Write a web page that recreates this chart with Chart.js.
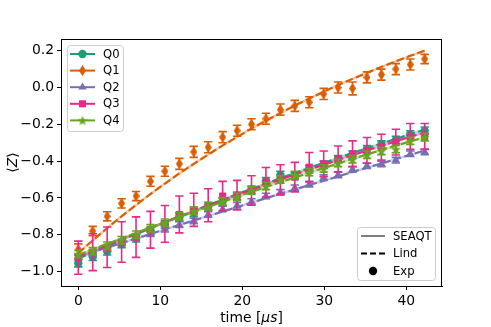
<!DOCTYPE html>
<html>
<head>
<meta charset="utf-8">
<script src="https://cdn.jsdelivr.net/npm/chart.js@4.4.0/dist/chart.umd.min.js"></script>
<style>
  html, body { margin: 0; padding: 0; background: #fff; }
</style>
</head>
<body>
<canvas id="chart-z" width="491" height="327"></canvas>
<script>
// time axis (µs)
const times = [0, 1.76, 3.52, 5.28, 7.04, 8.8, 10.56, 12.32, 14.08, 15.84, 17.6, 19.36, 21.12,
    22.88, 24.64, 26.4, 28.16, 29.92, 31.68, 33.44, 35.2, 36.96, 38.72, 40.48, 42.24];

const qubits = ['Q0', 'Q1', 'Q2', 'Q3', 'Q4'];
const colors = ['#1b9e77', '#d95f02', '#7570b3', '#e7298a', '#66a61e'];

// experiment <Z>
const expQ0 = [-0.955, -0.92, -0.89, -0.85, -0.82, -0.78, -0.745, -0.705, -0.68, -0.645, -0.62, -0.59, -0.555,
    -0.51, -0.475, -0.48, -0.445, -0.42, -0.39, -0.365, -0.335, -0.31, -0.285, -0.255, -0.235];
const expQ1 = [-0.88, -0.78, -0.70, -0.63, -0.59, -0.51, -0.455, -0.415, -0.35, -0.325, -0.27, -0.235, -0.20,
    -0.17, -0.12, -0.10, -0.08, -0.035, 0.0, -0.005, 0.055, 0.07, 0.10, 0.125, 0.155];
const expQ2 = [-0.92, -0.90, -0.875, -0.845, -0.815, -0.795, -0.77, -0.745, -0.725, -0.69, -0.66, -0.64, -0.62,
    -0.59, -0.57, -0.545, -0.525, -0.49, -0.475, -0.445, -0.425, -0.415, -0.395, -0.36, -0.35];
const expQ3 = [-0.925, -0.895, -0.868, -0.84, -0.813, -0.773, -0.741, -0.69, -0.665, -0.64, -0.59, -0.585, -0.56,
    -0.515, -0.50, -0.487, -0.433, -0.415, -0.388, -0.36, -0.342, -0.324, -0.297, -0.266, -0.266];
const expQ4 = [-0.905, -0.89, -0.86, -0.83, -0.80, -0.765, -0.735, -0.70, -0.67, -0.645, -0.62, -0.595, -0.56,
    -0.535, -0.50, -0.475, -0.46, -0.44, -0.41, -0.39, -0.365, -0.345, -0.335, -0.29, -0.27];

// error bars
const errQ0 = [0.02, 0.02, 0.02, 0.02, 0.02, 0.02, 0.02, 0.02, 0.02, 0.02, 0.02, 0.02, 0.02,
    0.02, 0.02, 0.02, 0.02, 0.02, 0.02, 0.02, 0.02, 0.02, 0.02, 0.02, 0.02];
const errQ1 = [0.03, 0.025, 0.025, 0.025, 0.025, 0.027, 0.027, 0.03, 0.03, 0.03, 0.03, 0.03, 0.03,
    0.03, 0.03, 0.03, 0.03, 0.03, 0.03, 0.035, 0.03, 0.03, 0.03, 0.03, 0.025];
const errQ2 = [0.015, 0.015, 0.015, 0.015, 0.015, 0.015, 0.015, 0.015, 0.015, 0.015, 0.015, 0.015, 0.015,
    0.015, 0.015, 0.015, 0.015, 0.015, 0.015, 0.015, 0.015, 0.015, 0.015, 0.015, 0.015];
const errQ3 = [0.09, 0.1, 0.11, 0.11, 0.11, 0.1, 0.1, 0.1, 0.09, 0.09, 0.08, 0.08, 0.08,
    0.08, 0.08, 0.08, 0.08, 0.07, 0.07, 0.07, 0.07, 0.07, 0.07, 0.07, 0.07];
const errQ4 = [0.02, 0.02, 0.02, 0.02, 0.02, 0.02, 0.02, 0.02, 0.02, 0.02, 0.02, 0.02, 0.02,
    0.02, 0.02, 0.02, 0.02, 0.02, 0.02, 0.02, 0.02, 0.02, 0.02, 0.02, 0.02];

// Lindblad model
const lindQ0 = [-0.930, -0.896, -0.863, -0.830, -0.797, -0.765, -0.733, -0.702, -0.671, -0.640, -0.610, -0.580, -0.551,
    -0.522, -0.493, -0.465, -0.437, -0.410, -0.383, -0.356, -0.330, -0.304, -0.279, -0.254, -0.229];
const lindQ1 = [-0.900, -0.831, -0.764, -0.700, -0.639, -0.579, -0.522, -0.467, -0.415, -0.364, -0.315, -0.269, -0.223,
    -0.180, -0.139, -0.098, -0.060, -0.023, 0.013, 0.047, 0.080, 0.112, 0.142, 0.172, 0.200];
const lindQ2 = [-0.920, -0.895, -0.870, -0.845, -0.821, -0.796, -0.771, -0.747, -0.723, -0.698, -0.674, -0.650, -0.626,
    -0.602, -0.578, -0.554, -0.530, -0.507, -0.483, -0.459, -0.436, -0.413, -0.389, -0.366, -0.343];
const lindQ3 = [-0.920, -0.888, -0.856, -0.824, -0.793, -0.762, -0.732, -0.701, -0.672, -0.642, -0.613, -0.584, -0.556,
    -0.528, -0.500, -0.473, -0.446, -0.420, -0.393, -0.368, -0.342, -0.317, -0.292, -0.268, -0.244];
const lindQ4 = [-0.910, -0.880, -0.850, -0.820, -0.791, -0.762, -0.733, -0.704, -0.676, -0.649, -0.621, -0.594, -0.567,
    -0.541, -0.514, -0.489, -0.463, -0.438, -0.413, -0.388, -0.364, -0.340, -0.316, -0.293, -0.270];

// SEAQT model (overlaps the Lindblad curves at this scale)
const seaqtQ0 = lindQ0, seaqtQ1 = lindQ1, seaqtQ2 = lindQ2, seaqtQ3 = lindQ3, seaqtQ4 = lindQ4;

const xTicks = [0, 10, 20, 30, 40];
const yTicks = [-1.0, -0.8, -0.6, -0.4, -0.2, 0.0, 0.2];

const expData = [expQ0, expQ1, expQ2, expQ3, expQ4];
const errData = [errQ0, errQ1, errQ2, errQ3, errQ4];
const lindData = [lindQ0, lindQ1, lindQ2, lindQ3, lindQ4];
const seaqtData = [seaqtQ0, seaqtQ1, seaqtQ2, seaqtQ3, seaqtQ4];

Chart.defaults.font.family = '"DejaVu Sans", sans-serif';
Chart.defaults.color = '#000';

function markerCanvas(w, h, color, draw) {
    const c = document.createElement('canvas');
    c.width = w;
    c.height = h;
    const g = c.getContext('2d');
    g.fillStyle = color;
    g.beginPath();
    draw(g, w, h);
    g.closePath();
    g.fill();
    return c;
}

function thinDiamond(color) {
    return markerCanvas(7, 11, color, (g, w, h) => {
        g.moveTo(w / 2, 0);
        g.lineTo(w, h / 2);
        g.lineTo(w / 2, h);
        g.lineTo(0, h / 2);
    });
}

function star(color) {
    return markerCanvas(12, 12, color, (g) => {
        for (let k = 0; k < 10; k++) {
            const r = k % 2 === 0 ? 5.3 : 2.2;
            const a = -Math.PI / 2 + k * Math.PI / 5;
            const px = 6 + r * Math.cos(a), py = 6.5 + r * Math.sin(a);
            if (k === 0) g.moveTo(px, py); else g.lineTo(px, py);
        }
    });
}

const markers = [
    { pointStyle: 'circle', radius: 4.2 },
    { pointStyle: thinDiamond(colors[1]), radius: 5 },
    { pointStyle: 'triangle', radius: 4.8 },
    { pointStyle: 'rect', radius: 5 },
    { pointStyle: star(colors[4]), radius: 5 }
];

const toPoints = vals => times.map((t, i) => ({ x: t, y: vals[i] }));

function fade(hex, a) {
    const n = parseInt(hex.slice(1), 16);
    return `rgba(${n >> 16}, ${(n >> 8) & 255}, ${n & 255}, ${a})`;
}

const datasets = [];
qubits.forEach((q, k) => {
    datasets.push({
        label: q + ' SEAQT',
        data: toPoints(seaqtData[k]),
        borderColor: fade(colors[k], 0.35),
        borderWidth: 2.5,
        pointRadius: 0,
        fill: false,
        order: -(3 * k)
    });
    datasets.push({
        label: q + ' Lind',
        data: toPoints(lindData[k]),
        borderColor: colors[k],
        borderWidth: 2.1,
        borderDash: [7.7, 3.3],
        pointRadius: 0,
        fill: false,
        order: -(3 * k + 1)
    });
    datasets.push({
        label: q,
        data: toPoints(expData[k]),
        errors: errData[k],
        showLine: false,
        borderColor: colors[k],
        backgroundColor: colors[k],
        pointStyle: markers[k].pointStyle,
        pointRadius: markers[k].radius,
        pointBackgroundColor: colors[k],
        pointBorderColor: colors[k],
        pointBorderWidth: 0,
        order: -(3 * k + 2)
    });
});

const errorBars = {
    id: 'errorBars',
    beforeDatasetDraw(chart, args) {
        const ds = chart.data.datasets[args.index];
        if (!ds.errors) return;
        const { ctx } = chart;
        const xs = chart.scales.x, ys = chart.scales.y;
        ctx.save();
        ctx.strokeStyle = ds.borderColor;
        ctx.lineWidth = 1.6;
        ds.data.forEach((p, i) => {
            const px = xs.getPixelForValue(p.x);
            const top = ys.getPixelForValue(p.y + ds.errors[i]);
            const bot = ys.getPixelForValue(p.y - ds.errors[i]);
            ctx.beginPath();
            ctx.moveTo(px, top); ctx.lineTo(px, bot);
            ctx.moveTo(px - 4.2, top); ctx.lineTo(px + 4.2, top);
            ctx.moveTo(px - 4.2, bot); ctx.lineTo(px + 4.2, bot);
            ctx.stroke();
        });
        ctx.restore();
    }
};

function legendBox(ctx, x, y, w, h) {
    ctx.save();
    ctx.fillStyle = 'rgba(255,255,255,0.8)';
    ctx.strokeStyle = '#cccccc';
    ctx.lineWidth = 1;
    ctx.beginPath();
    ctx.roundRect(x + 0.5, y + 0.5, w, h, 3);
    ctx.fill();
    ctx.stroke();
    ctx.restore();
}

const frameAndLegends = {
    id: 'frameAndLegends',
    afterDraw(chart) {
        const { ctx, chartArea: a } = chart;
        ctx.save();
        ctx.strokeStyle = '#000';
        ctx.lineWidth = 1;
        ctx.strokeRect(Math.round(a.left) + 0.5, Math.round(a.top) + 0.5,
            Math.round(a.right - a.left) - 1, Math.round(a.bottom - a.top));

        // qubit legend, top left
        legendBox(ctx, a.left + 6, a.top + 6, 56, 86);
        ctx.font = '11.6px "DejaVu Sans"';
        ctx.textBaseline = 'middle';
        qubits.forEach((q, k) => {
            const yy = a.top + 15 + k * 16.6;
            ctx.strokeStyle = colors[k];
            ctx.lineWidth = 2;
            ctx.beginPath();
            ctx.moveTo(a.left + 9, yy);
            ctx.lineTo(a.left + 34, yy);
            ctx.stroke();
            ctx.fillStyle = colors[k];
            ctx.strokeStyle = colors[k];
            Chart.helpers.drawPoint(ctx, {
                pointStyle: markers[k].pointStyle, radius: markers[k].radius,
                rotation: 0, borderWidth: 0
            }, a.left + 21.5, yy);
            ctx.fillStyle = '#000';
            ctx.fillText(q, a.left + 42, yy + 0.5);
        });

        // model legend, bottom right
        const lx = a.right - 85, ly = a.bottom - 59;
        legendBox(ctx, lx, ly, 78, 53);
        const rows = ['SEAQT', 'Lind', 'Exp'];
        rows.forEach((r, k) => {
            const yy = ly + 9 + k * 17.5;
            ctx.lineWidth = 2;
            if (k === 0) {
                ctx.strokeStyle = 'rgba(0,0,0,0.5)';
                ctx.setLineDash([]);
            } else if (k === 1) {
                ctx.strokeStyle = '#000';
                ctx.setLineDash([6, 3]);
            }
            if (k < 2) {
                ctx.beginPath();
                ctx.moveTo(lx + 4, yy);
                ctx.lineTo(lx + 28, yy);
                ctx.stroke();
                ctx.setLineDash([]);
            } else {
                ctx.fillStyle = '#000';
                ctx.beginPath();
                ctx.arc(lx + 16, yy, 4.2, 0, Math.PI * 2);
                ctx.fill();
            }
            ctx.fillStyle = '#000';
            ctx.fillText(r, lx + 36, yy + 0.5);
        });

        // axis titles with italic math parts
        const parts = [['time [', ''], ['\u03bcs', 'italic '], [']', '']];
        let total = 0;
        parts.forEach(p => { ctx.font = p[1] + '13.9px "DejaVu Sans"'; total += ctx.measureText(p[0]).width; });
        let tx = (a.left + a.right) / 2 - total / 2;
        ctx.textAlign = 'left';
        parts.forEach(p => {
            ctx.font = p[1] + '13.9px "DejaVu Sans"';
            ctx.fillText(p[0], tx, 318);
            tx += ctx.measureText(p[0]).width;
        });

        ctx.translate(13, (a.top + a.bottom) / 2);
        ctx.rotate(-Math.PI / 2);
        const yparts = [['\u27e8', ''], ['Z', 'italic '], ['\u27e9', '']];
        total = 0;
        yparts.forEach(p => { ctx.font = p[1] + '13.9px "DejaVu Sans"'; total += ctx.measureText(p[0]).width; });
        tx = -total / 2;
        yparts.forEach(p => {
            ctx.font = p[1] + '13.9px "DejaVu Sans"';
            ctx.fillText(p[0], tx, 0);
            tx += ctx.measureText(p[0]).width;
        });
        ctx.restore();
    }
};

new Chart(document.getElementById('chart-z'), {
    type: 'line',
    data: { datasets },
    options: {
        responsive: false,
        animation: false,
        devicePixelRatio: 1,
        layout: { padding: { top: 39, right: 49, left: 0, bottom: 0 } },
        plugins: { legend: { display: false }, tooltip: { enabled: false } },
        scales: {
            x: {
                type: 'linear',
                min: -2.11,
                max: 44.35,
                afterBuildTicks: s => { s.ticks = xTicks.map(v => ({ value: v })); },
                afterFit: s => { s.height = 41; },
                grid: { drawOnChartArea: false, tickLength: 4, tickColor: '#000' },
                border: { color: '#000' },
                ticks: { font: { size: 13.9 }, padding: 3, maxRotation: 0, callback: v => String(v) }
            },
            y: {
                type: 'linear',
                min: -1.0788,
                max: 0.2636,
                afterBuildTicks: s => { s.ticks = yTicks.map(v => ({ value: v })); },
                afterFit: s => { s.width = 61; },
                grid: { drawOnChartArea: false, tickLength: 4, tickColor: '#000' },
                border: { color: '#000' },
                ticks: { font: { size: 13.9 }, padding: 3, callback: v => v.toFixed(1).replace('-', '\u2212') }
            }
        }
    },
    plugins: [errorBars, frameAndLegends]
});
</script>
</body>
</html>
